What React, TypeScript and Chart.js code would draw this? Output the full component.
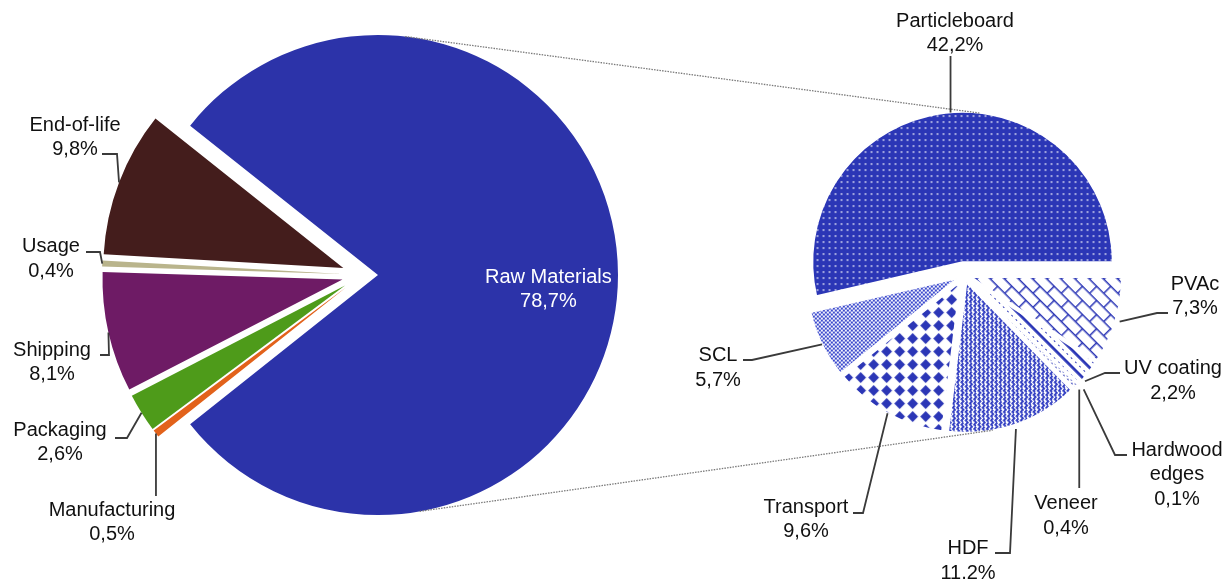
import React, { useEffect, useRef } from 'react';
import { Chart, registerables, PieController } from 'chart.js';

Chart.register(...registerables);

// Pie controller that moves every slice outward along its own bisector (exploded pie)
class ExplodedPieController extends (PieController as any) {
  static id = 'explodedPie';
  draw() {
    const self: any = this;
    const ctx = self.chart.ctx;
    const shifts: number[] = self.getDataset().shift || [];
    (self._cachedMeta.data || []).forEach((arc: any, i: number) => {
      if (arc.hidden) return;
      const mid = (arc.startAngle + arc.endAngle) / 2;
      const s = shifts[i] || 0;
      ctx.save();
      ctx.translate(Math.cos(mid) * s, Math.sin(mid) * s);
      arc.draw(ctx, self.chart.chartArea);
      ctx.restore();
    });
  }
}
Chart.register(ExplodedPieController as any);

const W = 1228;
const H = 579;

// ---- data: main pie ----
const mainLabels = ['Raw Materials', 'Manufacturing', 'Packaging', 'Shipping', 'Usage', 'End-of-life'];
const mainValues = [78.7, 0.5, 2.6, 8.1, 0.4, 9.8];

// ---- data: breakdown of Raw Materials ----
const subLabels = ['Particleboard', 'PVAc', 'UV coating', 'Hardwood edges', 'Veneer', 'HDF', 'Transport', 'SCL'];
const subValues = [42.2, 7.3, 2.2, 0.1, 0.4, 11.2, 9.6, 5.7];

// ---- styles / layout ----
const mainColors = ['#2C33A9', '#E2621B', '#4E9B1A', '#6E1B65', '#B9B48C', '#441D1C'];
const mainShift = [16, 20, 20, 20, 20, 20];
const subShift = [13, 8, 8, 8, 8, 8, 8, 8];
const MAIN_C = { x: 362, y: 275 };
const MAIN_R = 240;
const SUB_C = { x: 964, y: 275 };
const SUB_R = 150;
const BLUE = '#2B36B6';
const FONT = '20px "Liberation Sans", Arial, Helvetica, sans-serif';
const LINE = 24.5;

type Lay = { x: number; y: number; frac?: number; rf?: number; path?: number[][]; vert?: number; inside?: boolean; dy?: number; wrap?: boolean; color?: string };

const mainLayout: Lay[] = [
  { x: 0, y: 0, inside: true, rf: 0.71, dy: 2, color: '#ffffff' },
  { x: 112, y: 510, frac: 0.5, vert: 496 },
  { x: 60, y: 430, frac: 0.5, path: [[127, 438], [115, 438]] },
  { x: 52, y: 350, frac: 0.5, path: [[109, 355], [100, 355]] },
  { x: 51, y: 246.5, frac: 0.5, path: [[100, 252], [86, 252]] },
  { x: 75, y: 125, frac: 0.5, path: [[117, 154], [102, 154]] },
];

const subLayout: Lay[] = [
  { x: 955, y: 21, frac: 0.51, vert: 56 },
  { x: 1195, y: 284, frac: 0.5, rf: 1.03, path: [[1157, 313], [1168, 313]] },
  { x: 1173, y: 368.5, frac: 0.8, rf: 1.02, path: [[1105, 373], [1120, 373]] },
  { x: 1177, y: 450, frac: 0.5, rf: 1.05, wrap: true, path: [[1115, 455], [1127, 455]] },
  { x: 1066, y: 503.5, frac: 0.5, rf: 1.03, vert: 488 },
  { x: 968, y: 548.5, frac: 0.5, rf: 1.03, path: [[1010, 553], [995, 553]] },
  { x: 806, y: 507, frac: 0.5, rf: 1.0, path: [[863, 513], [853, 513]] },
  { x: 718, y: 355.5, frac: 0.5, rf: 1.0, path: [[752, 360], [743, 360]] },
];

const fmt = (v: number) => v.toFixed(1).replace('.', ',') + '%';
const sum = (a: number[]) => a.reduce((s, v) => s + v, 0);

function arcGeom(arc: any, shift: number) {
  const mid = (arc.startAngle + arc.endAngle) / 2;
  return {
    cx: arc.x + Math.cos(mid) * shift,
    cy: arc.y + Math.sin(mid) * shift,
    r: arc.outerRadius,
    start: arc.startAngle,
    end: arc.endAngle,
    mid,
  };
}

function pointOn(g: any, ang: number, rf: number) {
  return { x: g.cx + Math.cos(ang) * g.r * rf, y: g.cy + Math.sin(ang) * g.r * rf };
}

function calloutPlugin(names: string[], values: number[], shifts: number[], layout: Lay[]) {
  return {
    id: 'callouts',
    afterDraw(chart: any) {
      const ctx = chart.ctx;
      const arcs = chart.getDatasetMeta(0).data;
      ctx.save();
      ctx.font = FONT;
      ctx.textAlign = 'center';
      ctx.textBaseline = 'middle';
      layout.forEach((lay, i) => {
        const g = arcGeom(arcs[i], shifts[i]);
        const lines = (lay.wrap ? names[i].split(' ') : [names[i]]).concat([fmt(values[i])]);
        if (lay.inside) {
          const p = pointOn(g, g.mid, lay.rf || 0.7);
          ctx.fillStyle = lay.color || '#fff';
          lines.forEach((s, k) => ctx.fillText(s, p.x, p.y + (lay.dy || 0) + k * LINE));
          return;
        }
        const a = pointOn(g, g.start + (g.end - g.start) * (lay.frac ?? 0.5), lay.rf ?? 1);
        ctx.strokeStyle = '#3a3a3a';
        ctx.lineWidth = 1.8;
        ctx.beginPath();
        ctx.moveTo(a.x, a.y);
        if (lay.vert !== undefined) ctx.lineTo(a.x, lay.vert);
        (lay.path || []).forEach((pt) => ctx.lineTo(pt[0], pt[1]));
        ctx.stroke();
        ctx.fillStyle = lay.color || '#111';
        lines.forEach((s, k) => ctx.fillText(s, lay.x, lay.y + k * LINE));
      });
      ctx.restore();
    },
  };
}

function tile(w: number, h: number, bg: string | null, draw: (g: CanvasRenderingContext2D) => void, rot?: number) {
  const c = document.createElement('canvas');
  c.width = w;
  c.height = h;
  const g = c.getContext('2d') as CanvasRenderingContext2D;
  if (bg) {
    g.fillStyle = bg;
    g.fillRect(0, 0, w, h);
  }
  draw(g);
  const p = g.createPattern(c, 'repeat') as CanvasPattern;
  if (rot && (p as any).setTransform) p.setTransform(new DOMMatrix().rotate(rot));
  return p;
}

function makeSubPatterns() {
  const dotsOnBlue = tile(6, 6, BLUE, (g) => {
    g.fillStyle = '#fff';
    g.fillRect(2.2, 2.2, 1.5, 1.5);
  });
  const bricks = tile(20, 20, '#fff', (g) => {
    g.strokeStyle = BLUE;
    g.lineWidth = 1.5;
    g.beginPath();
    g.moveTo(0, 0.8); g.lineTo(20, 0.8);
    g.moveTo(0, 10.8); g.lineTo(20, 10.8);
    g.moveTo(0.8, 0); g.lineTo(0.8, 10.8);
    g.moveTo(10.8, 10.8); g.lineTo(10.8, 20);
    g.stroke();
  }, 45);
  const uv = tile(12, 12, '#fff', (g) => {
    g.fillStyle = BLUE;
    g.fillRect(0, 5, 12, 2.8);
    g.fillRect(0, 0, 2, 1);
    g.fillRect(6, 0, 2, 1);
  }, 45);
  const hardwood = tile(3, 3, '#fff', (g) => {
    g.fillStyle = '#6A75D6';
    g.fillRect(0, 0, 2, 2);
  });
  const veneer = tile(4, 4, '#fff', (g) => {
    g.fillStyle = BLUE;
    g.beginPath();
    g.arc(2, 2, 1.0, 0, Math.PI * 2);
    g.fill();
  });
  const herring = tile(6, 6, '#fff', (g) => {
    g.strokeStyle = '#2B38C0';
    g.lineWidth = 1.8;
    g.beginPath();
    g.moveTo(0, 0.9); g.lineTo(3.9, 0.9); g.lineTo(3.9, 3.9); g.lineTo(6, 3.9);
    g.moveTo(0.9, 3.9); g.lineTo(0.9, 6);
    g.stroke();
  }, 45);
  const diamonds = tile(13, 13, '#fff', (g) => {
    g.fillStyle = BLUE;
    g.beginPath();
    g.moveTo(6.5, 1.1); g.lineTo(11.9, 6.5); g.lineTo(6.5, 11.9); g.lineTo(1.1, 6.5);
    g.closePath();
    g.fill();
  });
  const smallDots = tile(4, 4, '#fff', (g) => {
    g.fillStyle = '#3342CC';
    g.beginPath();
    g.arc(1, 1, 1.15, 0, Math.PI * 2);
    g.arc(3, 3, 1.15, 0, Math.PI * 2);
    g.fill();
  });
  return [dotsOnBlue, bricks, uv, hardwood, veneer, herring, diamonds, smallDots];
}

export default function App() {
  const mainRef = useRef<HTMLCanvasElement>(null);
  const subRef = useRef<HTMLCanvasElement>(null);

  useEffect(() => {
    if (!mainRef.current || !subRef.current) return;
    const mainTotal = sum(mainValues);
    const subTotal = sum(subValues);
    const mainRotation = 90 - (mainValues[0] / mainTotal) * 180;
    const subRotation = 90 - (subValues[0] / subTotal) * 360;

    const main = new Chart(mainRef.current, {
      type: 'explodedPie' as any,
      data: {
        labels: mainLabels,
        datasets: [{
          data: mainValues,
          backgroundColor: mainColors,
          borderColor: '#ffffff',
          borderWidth: 0,
          shift: mainShift,
        } as any],
      },
      options: {
        responsive: false,
        animation: false,
        events: [],
        radius: MAIN_R,
        rotation: mainRotation,
        layout: { padding: { left: 0, top: 0, right: W - 2 * MAIN_C.x, bottom: H - 2 * MAIN_C.y } },
        plugins: { legend: { display: false }, tooltip: { enabled: false } },
      } as any,
      plugins: [calloutPlugin(mainLabels, mainValues, mainShift, mainLayout)],
    });

    const connector = {
      id: 'connector',
      afterDraw(chart: any) {
        const raw = arcGeom(main.getDatasetMeta(0).data[0], mainShift[0]);
        const arcs = chart.getDatasetMeta(0).data;
        const top = arcGeom(arcs[0], subShift[0]);
        const bot = arcGeom(arcs[5], subShift[5]);
        const d = Math.PI / 180;
        const p1 = pointOn(raw, -83.5 * d, 1);
        const p2 = pointOn(top, -83.4 * d, 1);
        const p3 = pointOn(raw, 80 * d, 1);
        const p4 = pointOn(bot, 80 * d, 1);
        const ctx = chart.ctx;
        ctx.save();
        ctx.strokeStyle = '#7a7a7a';
        ctx.lineWidth = 1.3;
        ctx.setLineDash([1.5, 1.2]);
        ctx.beginPath();
        ctx.moveTo(p1.x, p1.y); ctx.lineTo(p2.x, p2.y);
        ctx.moveTo(p3.x, p3.y); ctx.lineTo(p4.x, p4.y);
        ctx.stroke();
        ctx.restore();
      },
    };

    const sub = new Chart(subRef.current, {
      type: 'explodedPie' as any,
      data: {
        labels: subLabels,
        datasets: [{
          data: subValues,
          backgroundColor: makeSubPatterns() as any,
          borderColor: '#ffffff',
          borderWidth: 1.5,
          shift: subShift,
        } as any],
      },
      options: {
        responsive: false,
        animation: false,
        events: [],
        radius: SUB_R,
        rotation: subRotation,
        layout: { padding: { left: 2 * SUB_C.x - W, top: 0, right: 0, bottom: H - 2 * SUB_C.y } },
        plugins: { legend: { display: false }, tooltip: { enabled: false } },
      } as any,
      plugins: [connector, calloutPlugin(subLabels, subValues, subShift, subLayout)],
    });

    return () => {
      sub.destroy();
      main.destroy();
    };
  }, []);

  return (
    <div style={{ position: 'fixed', left: 0, top: 0, width: W, height: H, background: '#ffffff', overflow: 'hidden' }}>
      <canvas ref={mainRef} width={W} height={H} style={{ position: 'absolute', left: 0, top: 0 }} />
      <canvas ref={subRef} width={W} height={H} style={{ position: 'absolute', left: 0, top: 0 }} />
    </div>
  );
}
